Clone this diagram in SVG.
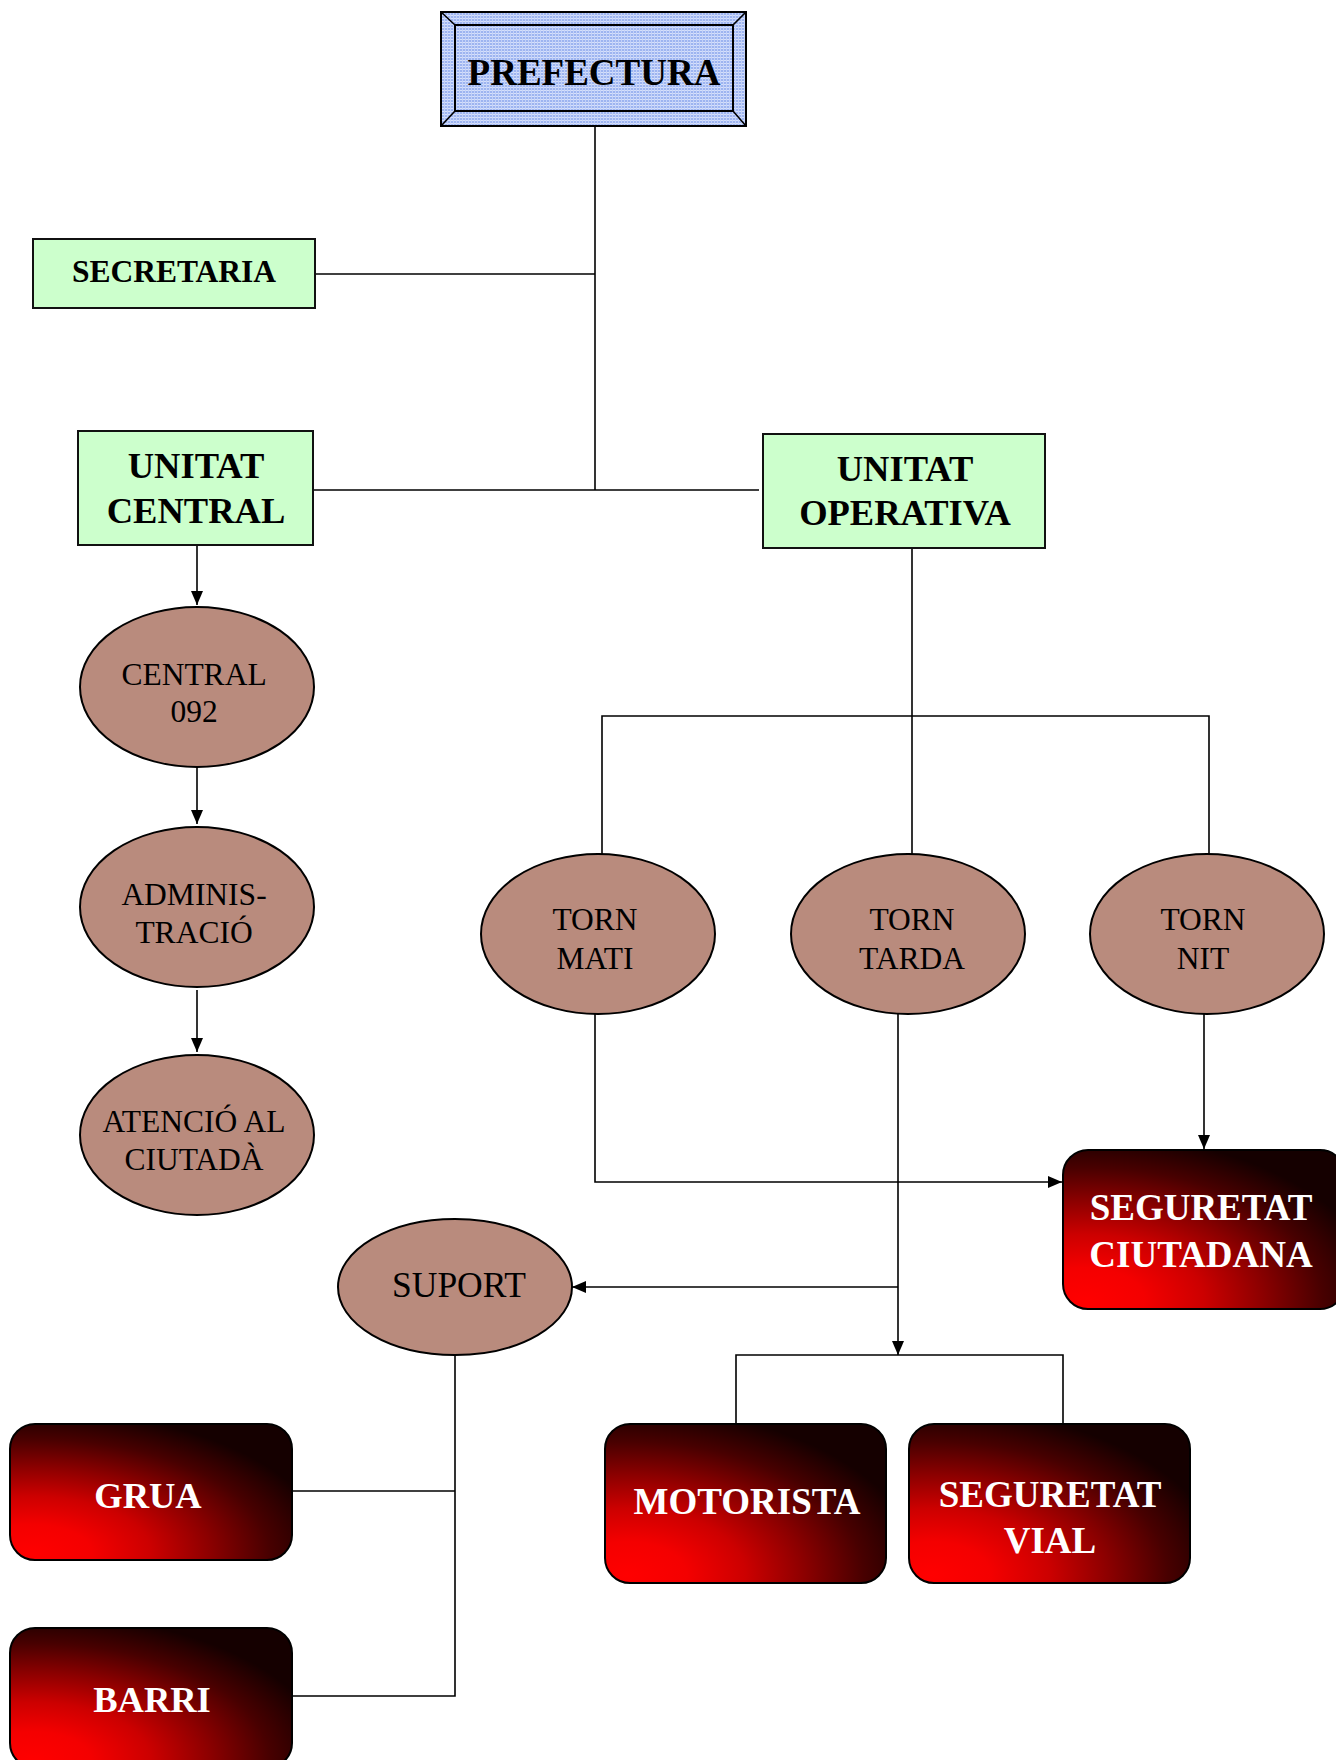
<svg xmlns="http://www.w3.org/2000/svg" width="1336" height="1760" viewBox="0 0 1336 1760">
<style>
.t{font-family:"Liberation Serif","Times New Roman",serif;text-anchor:middle;fill:#000}
.b{font-weight:bold}
.w{fill:#fff}
.green{fill:#CCFFCC;stroke:#111;stroke-width:2}
.oval{fill:#B98B7D;stroke:#000;stroke-width:2}
.red{fill:url(#rg);stroke:#000;stroke-width:2}
.ln{fill:none;stroke:#000;stroke-width:1.6}
.bev{fill:url(#grid);stroke:#000;stroke-width:2}
</style>
<defs>
<pattern id="grid" width="3" height="3" patternUnits="userSpaceOnUse">
<rect width="3" height="3" fill="#9DB4F0"/>
<rect width="3" height="1" fill="#D6E0FB"/>
<rect width="1" height="3" fill="#C3D1F8"/>
</pattern>
<radialGradient id="rg" cx="0.08" cy="0.95" r="1.05" fx="0.08" fy="0.95">
<stop offset="0" stop-color="#FF0000"/>
<stop offset="0.2" stop-color="#F40000"/>
<stop offset="0.4" stop-color="#CC0000"/>
<stop offset="0.6" stop-color="#8C0000"/>
<stop offset="0.8" stop-color="#480000"/>
<stop offset="1" stop-color="#150000"/>
</radialGradient>
<marker id="arr" markerWidth="14" markerHeight="12" refX="14" refY="6" orient="auto" markerUnits="userSpaceOnUse">
<path d="M0,0 L14,6 L0,12 z" fill="#000"/>
</marker>
</defs>

<g id="connectors">
<path class="ln" d="M595,126 V490"/>
<path class="ln" d="M315,274 H595"/>
<path class="ln" d="M313,490 H759"/>
<path class="ln" d="M197,545 V605" marker-end="url(#arr)"/>
<path class="ln" d="M197,764 V824" marker-end="url(#arr)"/>
<path class="ln" d="M197,990 V1052" marker-end="url(#arr)"/>
<path class="ln" d="M912,548 V854"/>
<path class="ln" d="M602,854 V716 H1209 V854"/>
<path class="ln" d="M595,1014 V1182 H1062" marker-end="url(#arr)"/>
<path class="ln" d="M1204,1014 V1149" marker-end="url(#arr)"/>
<path class="ln" d="M898,1014 V1355" marker-end="url(#arr)"/>
<path class="ln" d="M898,1287 H572" marker-end="url(#arr)"/>
<path class="ln" d="M736,1424 V1355 H1063 V1424"/>
<path class="ln" d="M455,1355 V1696 H292"/>
<path class="ln" d="M455,1491 H292"/>
</g>

<g id="prefectura">
<rect class="bev" x="441" y="12" width="305" height="114"/>
<path class="ln" d="M441,12 L455,25 M746,12 L733,25 M441,126 L455,111 M746,126 L733,111" stroke-width="2"/>
<rect x="455" y="25" width="278" height="86" fill="none" stroke="#000" stroke-width="2"/>
<text class="t b" x="594" y="85" font-size="37">PREFECTURA</text>
</g>

<g id="secretaria">
<rect class="green" x="33" y="239" width="282" height="69"/>
<text class="t b" x="174" y="282" font-size="31.5">SECRETARIA</text>
</g>

<g id="unitat-central">
<rect class="green" x="78" y="431" width="235" height="114"/>
<text class="t b" x="196" y="478" font-size="36.5">UNITAT</text>
<text class="t b" x="196" y="523" font-size="36.5">CENTRAL</text>
</g>

<g id="unitat-operativa">
<rect class="green" x="763" y="434" width="282" height="114"/>
<text class="t b" x="905" y="481" font-size="36.5">UNITAT</text>
<text class="t b" x="905" y="525" font-size="36.5">OPERATIVA</text>
</g>

<g id="central-092">
<ellipse class="oval" cx="197" cy="687" rx="117" ry="80"/>
<text class="t" x="194" y="685" font-size="31.5">CENTRAL</text>
<text class="t" x="194" y="722" font-size="31.5">092</text>
</g>

<g id="administracio">
<ellipse class="oval" cx="197" cy="907" rx="117" ry="80"/>
<text class="t" x="194" y="905" font-size="31.5">ADMINIS-</text>
<text class="t" x="194" y="943" font-size="31.5">TRACIÓ</text>
</g>

<g id="atencio">
<ellipse class="oval" cx="197" cy="1135" rx="117" ry="80"/>
<text class="t" x="194" y="1132" font-size="31.5">ATENCIÓ AL</text>
<text class="t" x="194" y="1170" font-size="31.5">CIUTADÀ</text>
</g>

<g id="torn-mati">
<ellipse class="oval" cx="598" cy="934" rx="117" ry="80"/>
<text class="t" x="595" y="930" font-size="31.5">TORN</text>
<text class="t" x="595" y="969" font-size="31.5">MATI</text>
</g>

<g id="torn-tarda">
<ellipse class="oval" cx="908" cy="934" rx="117" ry="80"/>
<text class="t" x="912" y="930" font-size="31.5">TORN</text>
<text class="t" x="912" y="969" font-size="31.5">TARDA</text>
</g>

<g id="torn-nit">
<ellipse class="oval" cx="1207" cy="934" rx="117" ry="80"/>
<text class="t" x="1203" y="930" font-size="31.5">TORN</text>
<text class="t" x="1203" y="969" font-size="31.5">NIT</text>
</g>

<g id="suport">
<ellipse class="oval" cx="455" cy="1287" rx="117" ry="68"/>
<text class="t" x="459" y="1297" font-size="35.5">SUPORT</text>
</g>

<g id="seguretat-ciutadana">
<rect class="red" x="1063" y="1150" width="282" height="159" rx="25"/>
<text class="t b w" x="1201" y="1220" font-size="37">SEGURETAT</text>
<text class="t b w" x="1201" y="1267" font-size="37">CIUTADANA</text>
</g>

<g id="motorista">
<rect class="red" x="605" y="1424" width="281" height="159" rx="25"/>
<text class="t b w" x="747" y="1514" font-size="37">MOTORISTA</text>
</g>

<g id="seguretat-vial">
<rect class="red" x="909" y="1424" width="281" height="159" rx="25"/>
<text class="t b w" x="1050" y="1507" font-size="37">SEGURETAT</text>
<text class="t b w" x="1050" y="1553" font-size="37">VIAL</text>
</g>

<g id="grua">
<rect class="red" x="10" y="1424" width="282" height="136" rx="25"/>
<text class="t b w" x="148" y="1508" font-size="36.5">GRUA</text>
</g>

<g id="barri">
<rect class="red" x="10" y="1628" width="282" height="140" rx="25"/>
<text class="t b w" x="152" y="1712" font-size="36.5">BARRI</text>
</g>
</svg>
